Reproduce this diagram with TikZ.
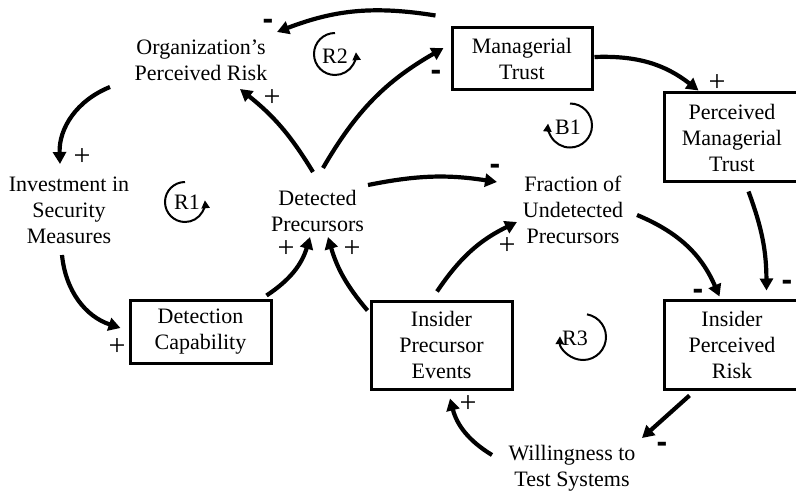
\documentclass[tikz,border=0pt]{standalone}
\usepackage{fontspec}
\setmainfont{Liberation Serif}
\newfontfamily\signfont{Liberation Sans}
\usetikzlibrary{arrows.meta}

\begin{document}
\begin{tikzpicture}[x=1pt,y=1pt,
  every node/.style={font=\fontsize{22}{26}\selectfont},
  vartext/.style={align=center, inner sep=0pt},
  stockbox/.style={draw, line width=3pt, rectangle, align=center, inner sep=0pt},
  link/.style={line width=4.2pt, -{Triangle[length=12pt,width=13pt]}},
  plussign/.style={inner sep=0pt, font=\fontsize{30}{30}\selectfont},
  minussign/.style={inner sep=0pt, yshift=-3.5pt, font={\signfont\bfseries\fontsize{32}{32}\selectfont}},
  loopname/.style={inner sep=0pt, font=\fontsize{22}{26}\selectfont},
  loopring/.style={line width=2pt, -{Triangle[length=8pt,width=8pt]}},
]
\useasboundingbox (0,0) rectangle (796,491);
\clip (0,0) rectangle (796,491);

% variables
\node[vartext] (org)  at (201,431)   {Organization’s\\Perceived Risk};
\node[vartext] (inv)  at (69,281)    {Investment in\\Security\\Measures};
\node[vartext] (det)  at (317.5,280) {Detected\\Precursors};
\node[vartext] (frac) at (573,281)   {Fraction of\\Undetected\\Precursors};
\node[vartext] (will) at (572,22.5)  {Willingness to\\Test Systems};

% stocks
\node[stockbox, minimum width=140pt, minimum height=62pt] (mt)  at (522,432)   {Managerial\\Trust};
\node[stockbox, minimum width=136pt, minimum height=89pt] (pmt) at (732,353.5) {Perceived\\Managerial\\Trust};
\node[stockbox, minimum width=141pt, minimum height=63pt] (dc)  at (200.5,159.5) {Detection\\Capability};
\node[stockbox, minimum width=141pt, minimum height=88pt] (ipe) at (441.5,146) {Insider\\Precursor\\Events};
\node[stockbox, minimum width=136pt, minimum height=89pt] (ipr) at (732,146.5) {Insider\\Perceived\\Risk};

% causal links
\draw[link] ([shift={(-15,11)}]mt.north west) to[bend right=15] ([shift={(76,28)}]org.center);
\draw[link] ([shift={(-4.5,39)}]det.center) to[bend right=10] ([shift={(39,-29)}]org.center);
\draw[link] ([shift={(5.5,43)}]det.center) to[bend left=15] ([shift={(-7,11)}]mt.west);
\draw[link] ([shift={(-91,-27)}]org.center) to[bend right=35] ([shift={(-9,46)}]inv.center);
\draw[link] ([shift={(-7,-45)}]inv.center) to[bend right=33] ([shift={(-8,3.5)}]dc.west);
\draw[link] ([shift={(-6,3)}]dc.north east) to[bend right=20] ([shift={(-7.5,-26)}]det.center);
\draw[link] ([shift={(-2,-11)}]ipe.north west) to[bend left=12] ([shift={(10.5,-26)}]det.center);
\draw[link] ([shift={(50.5,26)}]det.center) to[bend left=10] ([shift={(-76,28)}]frac.center);
\draw[link] ([shift={(-4.5,8)}]ipe.north) to[bend left=15] ([shift={(-56,-12)}]frac.center);
\draw[link] ([shift={(1,2)}]mt.east) to[bend left=20] ([shift={(36,1)}]pmt.north west);
\draw[link] ([shift={(64,-5)}]frac.center) to[bend left=22] ([shift={(57,2)}]ipr.north west);
\draw[link] ([shift={(86,-8)}]pmt.south west) to[bend left=10] ([shift={(104,8)}]ipr.north west);
\draw[link] ([shift={(27,-5)}]ipr.south west) -- ([shift={(70,30.5)}]will.center);
\draw[link] ([shift={(-80,13.5)}]will.center) to[bend left=22] ([shift={(8.5,-8)}]ipe.south);

% link polarities
\node[minussign] (s1)  at (268,470) {-};
\node[plussign]  (s2)  at (272,393) {+};
\node[minussign] (s3)  at (436,419) {-};
\node[plussign]  (s4)  at (82,334)  {+};
\node[plussign]  (s5)  at (117,144) {+};
\node[plussign]  (s6)  at (286,242) {+};
\node[plussign]  (s7)  at (352,242) {+};
\node[minussign] (s8)  at (495,325) {-};
\node[plussign]  (s9)  at (507,245) {+};
\node[plussign]  (s10) at (717,408) {+};
\node[minussign] (s11) at (698,200) {-};
\node[minussign] (s12) at (787,209) {-};
\node[minussign] (s13) at (662,47)  {-};
\node[plussign]  (s14) at (468,87)  {+};

% loop identifiers
\node[loopname] (r2) at (335,435)   {R2};
\node[loopname] (r1) at (187,288.5) {R1};
\node[loopname] (b1) at (568,364)   {B1};
\node[loopname] (r3) at (575,153)   {R3};
\draw[loopring] ([shift={(0,23)}]r2.center)    arc[start angle=90, end angle=365, radius=21];
\draw[loopring] ([shift={(-2,20.5)}]r1.center) arc[start angle=90, end angle=365, radius=20];
\draw[loopring] ([shift={(2,23.5)}]b1.center)  arc[start angle=90, end angle=-185, radius=22];
\draw[loopring] ([shift={(12,23.65)}]r3.center) arc[start angle=80, end angle=-182, radius=23];
\end{tikzpicture}
\end{document}
